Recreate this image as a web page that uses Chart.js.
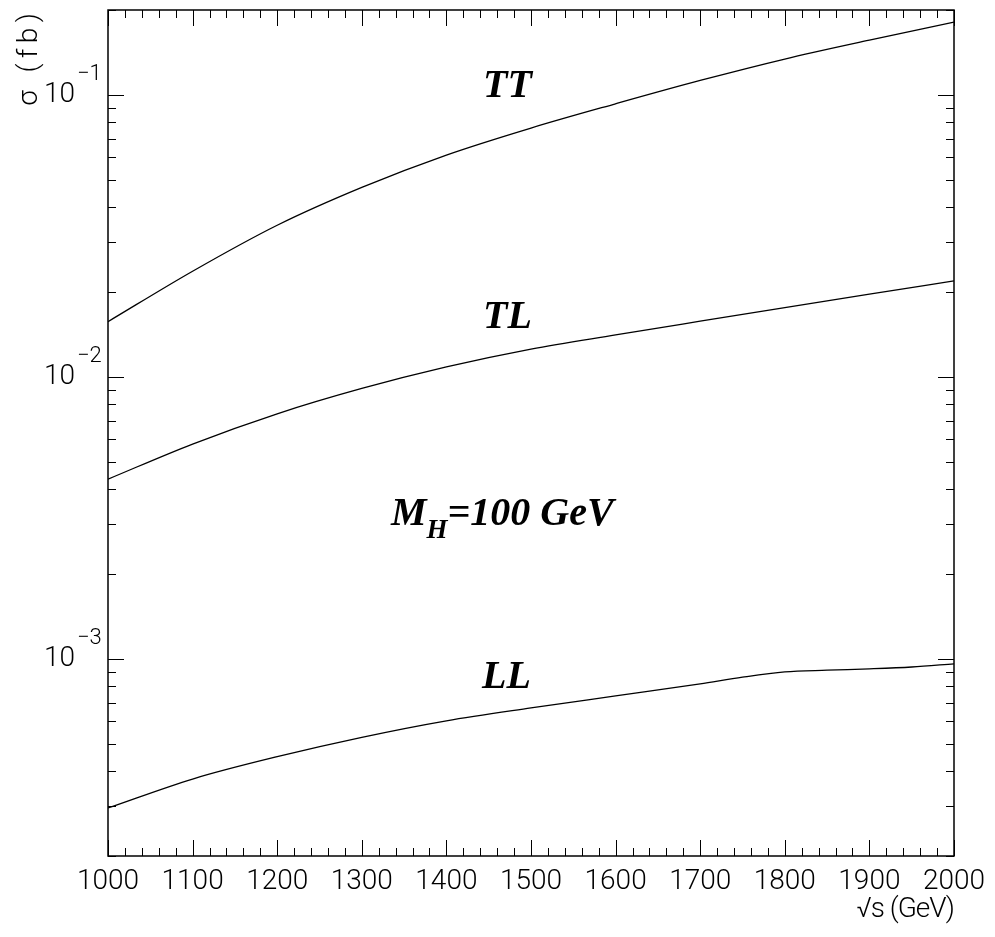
<!DOCTYPE html>
<html>
<head>
<meta charset="utf-8">
<script src="https://cdn.jsdelivr.net/npm/chart.js@4/dist/chart.umd.min.js"></script>
<style>
  html, body { margin: 0; padding: 0; background: #fff; }
  #wrap { width: 995px; height: 937px; }
</style>
</head>
<body>
<div id="wrap"><canvas id="c" width="995" height="937"></canvas></div>
<script>
// ---- data ----
const energies   = [1000, 1100, 1200, 1300, 1400, 1500, 1600, 1700, 1800, 1900, 2000];
const sigmaTT    = [0.0157, 0.0237, 0.0345, 0.0470, 0.0612, 0.0763, 0.0930, 0.1125, 0.1340, 0.1563, 0.1811];
const sigmaTL    = [0.00434, 0.00578, 0.00740, 0.00910, 0.01085, 0.01255, 0.01409, 0.01576, 0.01761, 0.01965, 0.0219];
const energiesLL = [1000, 1100, 1200, 1300, 1400, 1500, 1600, 1700, 1750, 1800, 1850, 1900, 1950, 2000];
const sigmaLL    = [0.000296, 0.000375, 0.000450, 0.000527, 0.000603, 0.000670, 0.000739, 0.000815, 0.000861, 0.000899, 0.000912, 0.000922, 0.000936, 0.000960];
const xTickLabels = ['1000','1100','1200','1300','1400','1500','1600','1700','1800','1900','2000'];
const yDecadeExponents = [-1, -2, -3];
const curveLabels = ['TT', 'TL', 'LL'];
const xTitle = '\u221As (GeV)';
const yTitle = '\u03C3 (fb)';

const toXY = (xs, ys) => xs.map((x, i) => ({ x: x, y: ys[i] }));

const AXIS_FONT = "Roboto, 'DejaVu Sans', sans-serif";
const LABEL_FONT = "'Liberation Serif', 'Times New Roman', serif";

const framePlugin = {
  id: 'frameTicks',
  afterDraw(chart) {
    const ctx = chart.ctx;
    const xs = chart.scales.x, ys = chart.scales.y;
    const a = chart.chartArea;
    ctx.save();
    ctx.strokeStyle = '#000';
    ctx.lineWidth = 1;
    // x ticks (bottom + top), major every 100, minor every 20
    for (let v = xs.min; v <= xs.max + 1e-6; v += 20) {
      const px = Math.round(xs.getPixelForValue(v)) + 0.5;
      const major = Math.abs(v % 100) < 1e-6;
      const len = major ? 16 : 8;
      ctx.beginPath();
      ctx.moveTo(px, a.bottom); ctx.lineTo(px, a.bottom - len);
      ctx.moveTo(px, a.top); ctx.lineTo(px, a.top + len);
      ctx.stroke();
    }
    // y ticks (left + right), log decades
    for (let d = -4; d <= 0; d++) {
      for (let m = 1; m <= 9; m++) {
        const v = m * Math.pow(10, d);
        if (v < ys.min * 0.999 || v > ys.max * 1.001) continue;
        const py = Math.round(ys.getPixelForValue(v)) + 0.5;
        const len = m === 1 ? 16 : 8;
        ctx.beginPath();
        ctx.moveTo(a.left, py); ctx.lineTo(a.left + len, py);
        ctx.moveTo(a.right, py); ctx.lineTo(a.right - len, py);
        ctx.stroke();
      }
    }
    // frame
    ctx.lineWidth = 1.5;
    ctx.strokeRect(a.left, a.top, a.right - a.left, a.bottom - a.top);

    // y tick labels 10^n
    ctx.fillStyle = '#000';
    ctx.textBaseline = 'middle';
    yDecadeExponents.forEach(e => {
      const py = ys.getPixelForValue(Math.pow(10, e));
      ctx.font = "300 28px " + AXIS_FONT;
      ctx.textAlign = 'right';
      ctx.fillText('10', a.left - 33, py);
      ctx.font = "300 22px " + AXIS_FONT;
      ctx.textAlign = 'left';
      ctx.fillText('\u2212' + Math.abs(e), a.left - 31, py - 20);
    });

    // axis titles
    ctx.font = "300 28px " + AXIS_FONT;
    ctx.textBaseline = 'middle';
    ctx.textAlign = 'right';
    ctx.letterSpacing = '-1px';
    ctx.fillText(xTitle, a.right, 910);
    ctx.save();
    ctx.translate(30, a.top + 3);
    ctx.rotate(-Math.PI / 2);
    ctx.letterSpacing = '5.5px';
    ctx.fillText(yTitle, 5.5, 0);
    ctx.restore();
    ctx.letterSpacing = '0px';

    // curve annotations
    ctx.textAlign = 'left';
    ctx.textBaseline = 'alphabetic';
    ctx.font = "italic bold 40px " + LABEL_FONT;
    ctx.fillText(curveLabels[0], a.left + 375, a.top + 87);
    ctx.fillText(curveLabels[1], a.left + 375, a.top + 318);
    ctx.fillText(curveLabels[2], a.left + 374, a.top + 678);
    // M_H = 100 GeV
    let x0 = a.left + 283, yb = a.top + 515;
    ctx.fillText('M', x0, yb);
    x0 += ctx.measureText('M').width;
    ctx.font = "italic bold 27px " + LABEL_FONT;
    ctx.fillText('H', x0, yb + 13);
    x0 += ctx.measureText('H').width;
    ctx.font = "italic bold 40px " + LABEL_FONT;
    ctx.fillText('=100 GeV', x0, yb);
    ctx.restore();
  }
};

const chart = new Chart(document.getElementById('c'), {
  type: 'line',
  data: {
    datasets: [
      { label: 'TT', data: toXY(energies, sigmaTT) },
      { label: 'TL', data: toXY(energies, sigmaTL) },
      { label: 'LL', data: toXY(energiesLL, sigmaLL) }
    ].map(d => Object.assign(d, {
      borderColor: '#000', borderWidth: 1.3, pointRadius: 0, fill: false,
      cubicInterpolationMode: 'monotone'
    }))
  },
  options: {
    responsive: false,
    animation: false,
    devicePixelRatio: 1,
    layout: { padding: { top: 10, right: 41, left: 0, bottom: 0 } },
    plugins: { legend: { display: false }, tooltip: { enabled: false } },
    scales: {
      x: {
        type: 'linear', position: 'bottom', min: 1000, max: 2000,
        grid: { display: false }, border: { display: false },
        ticks: {
          stepSize: 100, autoSkip: false, maxRotation: 0, padding: 1,
          color: '#000', font: { family: AXIS_FONT, size: 28, weight: '300' },
          callback: (v, i) => xTickLabels[i]
        },
        title: { display: false, text: xTitle },
        afterFit: s => { s.height = 81; }
      },
      y: {
        type: 'logarithmic', position: 'left', min: 2e-4, max: 0.2,
        grid: { display: false }, border: { display: false },
        ticks: { display: false },
        title: { display: false, text: yTitle },
        afterFit: s => { s.width = 108; }
      }
    }
  },
  plugins: [framePlugin]
});
</script>
</body>
</html>
